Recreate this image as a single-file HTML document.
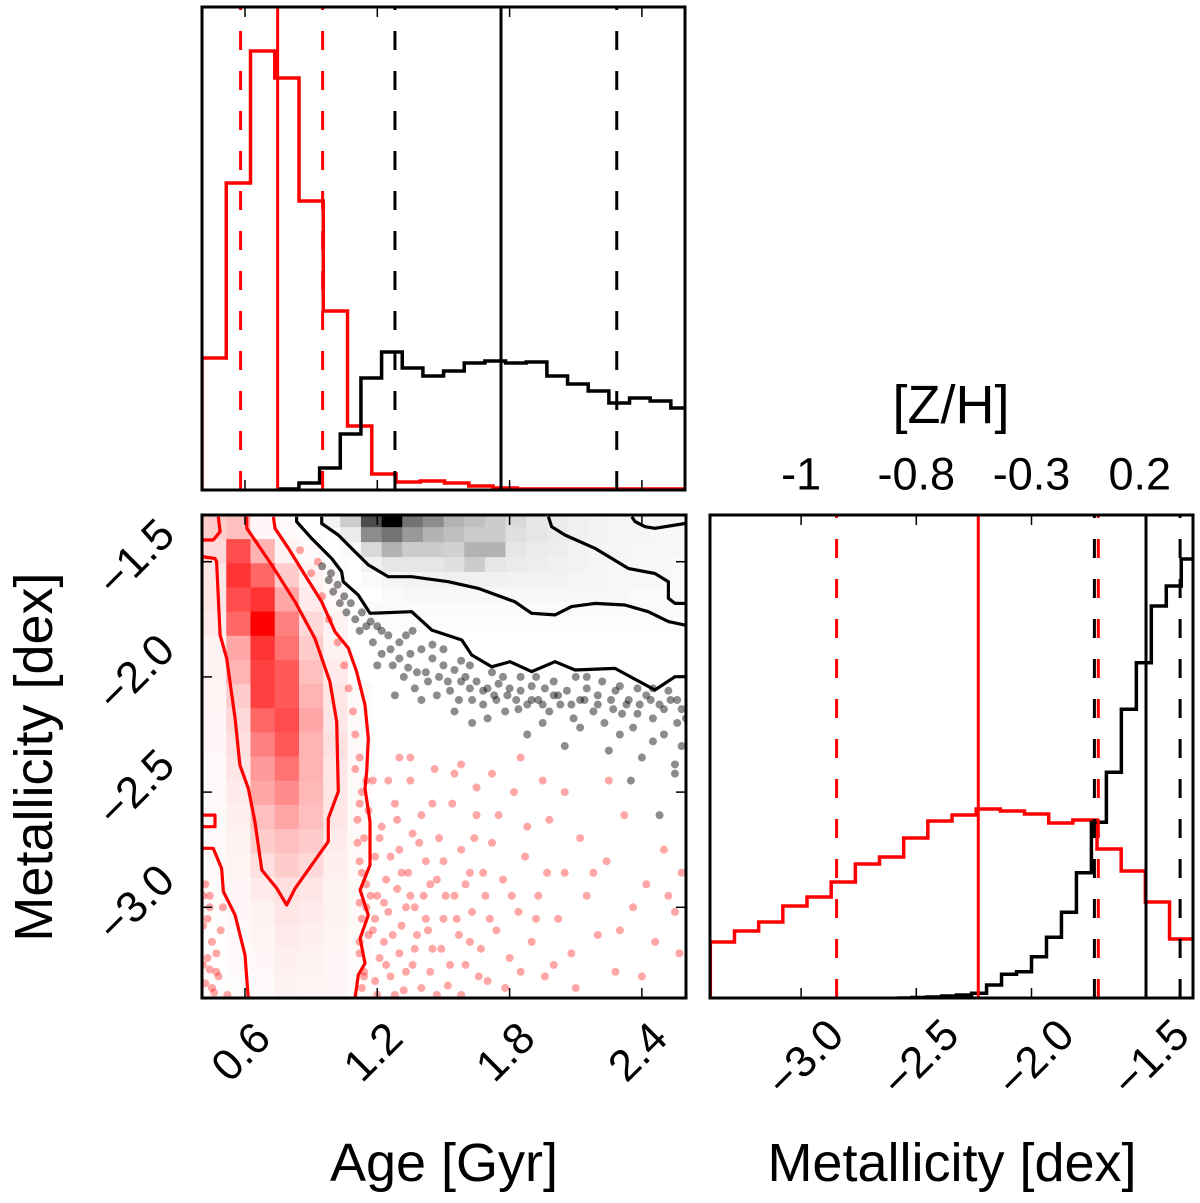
<!DOCTYPE html>
<html><head><meta charset="utf-8"><style>
html,body{margin:0;padding:0;background:#fff;}
svg{display:block;font-family:"Liberation Sans",Arial,sans-serif;}
</style></head><body>
<svg id="fig" width="1200" height="1203" viewBox="0 0 1200 1203" xmlns="http://www.w3.org/2000/svg">
<defs>
<clipPath id="clipTop"><rect x="202" y="7" width="483" height="483"/></clipPath>
<clipPath id="clipMain"><rect x="202" y="515" width="484" height="483"/></clipPath>
<clipPath id="clipRight"><rect x="710" y="515" width="483" height="483"/></clipPath>
</defs>
<g id="gTop"></g>
<g id="gMain"></g>
<g id="gRight"></g>
<g id="gText"></g>
</svg>
<script>
// ---------- data ----------
const ageTicks = [0.6, 1.2, 1.8, 2.4];
const ageTickLabels = ["0.6", "1.2", "1.8", "2.4"];
const metTicks = [-1.5, -2.0, -2.5, -3.0];
const metTickLabels = ["\u22121.5", "\u22122.0", "\u22122.5", "\u22123.0"];
const zhTickLabels = ["-1", "-0.8", "-0.3", "0.2"];
const zhTickPos = [-3.0, -2.5, -2.0, -1.53];

const redAgeStart = 0.405, redAgeWidth = 0.11;
const redAgeHist = [132, 307, 439, 412, 289, 179, 64, 16, 8, 9, 7, 4, 2, 1, 1, 1, 1, 1, 1, 1];
const blackAgeStart = 0.751, blackAgeWidth = 0.0937;
const blackAgeHist = [1, 7, 22, 56, 112, 138, 122, 114, 119, 127, 129, 127, 128, 114, 106, 99, 87, 92, 89, 82];
const redAgeLines = [0.58, 0.748, 0.952];
const blackAgeLines = [1.28, 1.761, 2.286];

const redMetStart = -3.394, redMetWidth = 0.1049;
const redMetHist = [56, 67, 76, 92, 101, 116, 134, 141, 160, 177, 183, 189, 187, 184, 175, 178, 149, 127, 96, 59];
const blackMetStart = -2.585, blackMetWidth = 0.065;
const blackMetHist = [0, 0.5, 1, 2, 3, 4.7, 13, 23.7, 26.3, 41.3, 60.7, 85.7, 125.3, 175.7, 225.7, 288.7, 335.3, 392, 412, 439];
const redMetLines = [-2.846, -2.231, -1.71];
const blackMetLines = [-1.727, -1.503, -1.355];

const redDensTop = -1.297, redDensH = 0.1049;
const redDensity = [
[0.2,0.25,0.03,0.02,0,0,0],
[0.15,0.7,0.3,0.05,0.02,0,0],
[0.1,0.8,0.6,0.2,0.05,0.02,0],
[0.1,0.7,0.8,0.35,0.08,0.02,0],
[0.08,0.6,1.0,0.5,0.15,0.05,0],
[0.05,0.35,0.8,0.55,0.2,0.05,0],
[0.05,0.3,0.75,0.65,0.25,0.08,0],
[0.04,0.2,0.75,0.65,0.3,0.1,0.02],
[0.03,0.15,0.6,0.7,0.35,0.1,0.02],
[0.03,0.12,0.5,0.65,0.3,0.12,0.02],
[0.02,0.1,0.4,0.55,0.3,0.1,0.02],
[0.02,0.08,0.35,0.45,0.28,0.1,0.02],
[0.02,0.06,0.25,0.35,0.25,0.1,0.02],
[0.02,0.05,0.2,0.25,0.2,0.08,0.02],
[0.02,0.04,0.12,0.2,0.15,0.06,0.02],
[0.01,0.03,0.08,0.12,0.1,0.05,0.02],
[0.01,0.03,0.05,0.1,0.08,0.05,0.02],
[0,0.02,0.04,0.08,0.06,0.04,0.02],
[0,0.02,0.03,0.06,0.05,0.03,0.01],
[0,0.01,0.02,0.05,0.04,0.03,0.01]
];
const blackDensTop = -1.285, blackDensH = 0.065;
const blackDensity = [
[0,0,0.05,0.2,0.7,1.0,0.55,0.45,0.3,0.25,0.2,0.15,0.1,0.08,0.06,0.05,0.04,0.04,0.03,0.03],
[0,0,0,0.08,0.45,0.55,0.4,0.3,0.25,0.2,0.2,0.12,0.1,0.08,0.06,0.05,0.04,0.04,0.03,0.03],
[0,0,0,0.02,0.15,0.3,0.2,0.2,0.18,0.3,0.3,0.1,0.08,0.07,0.05,0.04,0.04,0.03,0.03,0.03],
[0,0,0,0,0.05,0.1,0.1,0.1,0.12,0.2,0.1,0.08,0.07,0.06,0.05,0.04,0.03,0.03,0.03,0.02],
[0,0,0,0,0.02,0.04,0.05,0.05,0.06,0.06,0.06,0.05,0.05,0.05,0.04,0.04,0.03,0.03,0.03,0.02],
[0,0,0,0,0,0.02,0.03,0.03,0.03,0.03,0.03,0.03,0.03,0.03,0.03,0.03,0.03,0.02,0.02,0.02],
[0,0,0,0,0.02,0.02,0.02,0.02,0.02,0.02,0.02,0.02,0.02,0.02,0.02,0.02,0.02,0.02,0.02,0.02],
[0,0,0,0,0.01,0.01,0.01,0.01,0.01,0.01,0.01,0.01,0.01,0.01,0.01,0.01,0.01,0.01,0.01,0.01]
];

const redPointAge = [1.12,1.13,1.11,1.14,1.12,1.15,1.12,1.13,1.16,1.12,1.14,1.13,1.18,1.19,1.2,1.18,1.21,1.19,1.22,1.24,1.25,1.23,1.26,1.28,1.3,1.29,1.31,1.3,1.32,1.35,1.36,1.34,1.37,1.38,1.36,1.4,1.42,1.41,1.43,1.44,1.46,1.48,1.47,1.5,1.49,1.52,1.54,1.55,1.57,1.58,1.6,1.62,1.63,1.65,1.67,1.69,1.7,1.72,1.74,1.77,1.8,1.82,1.84,1.87,1.9,1.93,1.96,1.98,2.02,2.05,2.08,2.12,2.15,2.2,2.24,2.28,2.32,2.36,2.42,2.46,2.5,2.55,2.58,1.58,1.72,1.3,1.95,0.42,0.44,0.41,0.45,0.43,0.47,0.42,0.46,0.49,0.48,0.44,0.41,0.85,0.9,0.95,0.98,1.02,1.05,1.07,1.09,1.1,0.93,
1.11,1.13,1.15,1.12,1.14,1.16,1.17,1.19,1.2,1.21,1.23,1.24,1.26,1.27,1.28,1.29,1.31,1.33,1.33,1.35,1.37,1.39,1.4,1.42,1.44,1.45,1.47,1.5,1.51,1.53,1.56,1.58,1.6,1.62,1.64,1.66,1.68,1.71,1.75,1.78,1.81,1.85,1.88,1.92,1.97,2.0,2.1,2.18,2.3,2.4,2.52,2.57,1.25,1.35,1.45,1.55,1.65,1.85,2.05,2.25,1.1,1.12,1.15,0.43,0.45,0.47,0.5,0.52,0.41,0.44];
const redPointMet = [-2.35,-2.5,-2.62,-2.7,-2.8,-2.9,-2.98,-3.05,-3.12,-3.2,-3.28,-3.35,-2.45,-2.78,-2.95,-3.1,-3.22,-3.32,-2.65,-2.88,-3.02,-3.15,-3.3,-2.55,-2.75,-2.92,-3.08,-3.2,-3.36,-2.45,-2.68,-2.85,-3.0,-3.12,-3.25,-2.6,-2.8,-2.95,-3.1,-3.28,-2.4,-2.7,-2.88,-3.05,-3.18,-3.34,-2.55,-2.95,-3.12,-2.75,-3.25,-2.85,-3.02,-2.6,-3.18,-2.95,-3.32,-2.72,-3.1,-2.88,-3.22,-2.5,-3.02,-2.78,-3.15,-2.95,-3.3,-2.62,-3.05,-2.85,-3.2,-2.7,-2.95,-3.12,-2.8,-3.28,-2.6,-3.0,-2.9,-3.15,-2.75,-3.02,-2.85,-2.38,-2.42,-2.35,-2.45,-2.9,-3.0,-3.08,-3.15,-3.22,-3.28,-3.33,-3.37,-3.1,-3.3,-2.95,-3.25,-1.45,-1.55,-1.65,-1.75,-1.85,-1.95,-2.05,-2.15,-2.25,-1.5,
-2.72,-2.85,-3.0,-3.15,-3.3,-2.58,-2.95,-3.05,-3.38,-2.7,-2.98,-3.25,-2.78,-3.12,-3.38,-2.62,-2.85,-3.0,-3.28,-2.95,-3.18,-2.72,-3.35,-3.05,-2.9,-3.18,-3.38,-2.8,-2.95,-3.25,-3.05,-3.38,-2.9,-3.15,-2.7,-3.3,-2.85,-3.05,-2.6,-3.35,-2.95,-3.28,-2.65,-3.05,-2.85,-3.25,-3.35,-2.85,-3.1,-3.3,-2.95,-3.2,-2.45,-2.35,-2.55,-2.42,-2.48,-2.35,-2.5,-2.45,-2.4,-2.55,-2.45,-3.05,-3.35,-3.2,-3.0,-3.38,-2.95,-3.27];
const blackPointAge = [0.95,0.98,1.0,1.03,1.06,1.1,1.12,1.15,1.18,1.2,1.22,1.25,1.27,1.3,1.32,1.35,1.37,1.4,1.42,1.45,1.47,1.5,1.52,1.55,1.57,1.6,1.62,1.65,1.68,1.7,1.73,1.75,1.78,1.8,1.83,1.85,1.88,1.9,1.93,1.96,1.98,2.0,2.03,2.06,2.09,2.12,2.15,2.18,2.2,2.23,2.26,2.28,2.31,2.34,2.36,2.39,2.42,2.45,2.48,2.5,2.53,2.56,2.58,1.33,1.45,1.58,1.72,1.85,2.0,2.15,2.3,2.45,1.63,1.88,2.05,2.25,2.4,2.55,1.2,1.28,2.35,2.55,2.48,
1.08,1.13,1.17,1.22,1.26,1.3,1.34,1.38,1.43,1.48,1.53,1.58,1.63,1.68,1.74,1.79,1.84,1.9,1.95,2.02,2.08,2.14,2.2,2.27,2.33,2.38,2.44,2.5,2.56,2.6,1.36,1.5,1.62,1.77,1.92,2.1,2.22,2.38,2.52,1.4,1.55,1.7,1.95,2.12,2.3,2.45,2.58,1.02,0.99,1.05];
const blackPointMet = [-1.52,-1.58,-1.63,-1.68,-1.72,-1.75,-1.8,-1.78,-1.85,-1.78,-1.9,-1.82,-1.95,-1.85,-2.0,-1.9,-2.05,-1.88,-1.98,-1.92,-2.08,-1.95,-2.02,-1.97,-2.1,-2.0,-2.05,-2.02,-2.12,-2.05,-2.08,-2.03,-2.15,-2.05,-2.1,-2.06,-2.12,-2.04,-2.1,-2.05,-2.15,-2.08,-2.12,-2.06,-2.18,-2.1,-2.05,-2.15,-2.08,-2.2,-2.1,-2.06,-2.16,-2.1,-2.22,-2.12,-2.08,-2.18,-2.12,-2.25,-2.1,-2.2,-2.14,-1.82,-1.86,-1.93,-1.98,-2.0,-2.02,-2.0,-2.04,-2.05,-2.2,-2.25,-2.3,-2.32,-2.35,-2.38,-1.95,-2.08,-2.45,-2.42,-2.6,
-1.68,-1.72,-1.76,-1.8,-1.88,-1.92,-1.96,-1.98,-2.02,-2.0,-2.06,-2.02,-2.1,-2.06,-2.1,-2.08,-2.14,-2.1,-2.12,-2.08,-2.12,-2.1,-2.12,-2.14,-2.12,-2.16,-2.1,-2.14,-2.1,-2.18,-1.8,-1.88,-1.95,-2.0,-2.0,-2.0,-2.02,-2.05,-2.06,-2.1,-2.15,-2.18,-2.2,-2.22,-2.25,-2.28,-2.3,-1.6,-1.55,-1.65];

const redContourA = [[0.608,-1.305],[0.608,-1.355],[0.721,-1.514],[0.827,-1.674],[0.917,-1.833],[0.985,-2.021],[1.016,-2.194],[1.023,-2.498],[0.978,-2.614],[0.978,-2.715],[0.902,-2.817],[0.827,-2.918],[0.789,-2.99],[0.744,-2.918],[0.676,-2.838],[0.645,-2.628],[0.615,-2.484],[0.577,-2.383],[0.555,-2.18],[0.517,-1.92],[0.487,-1.818],[0.471,-1.5],[0.464,-1.486],[0.406,-1.478]];
const redContourB = [[0.479,-1.305],[0.487,-1.37],[0.456,-1.406],[0.406,-1.406]];
const redContourC = [[0.729,-1.305],[0.736,-1.355],[0.797,-1.442],[0.872,-1.558],[0.948,-1.674],[1.008,-1.804],[1.069,-1.876],[1.106,-1.977],[1.144,-2.122],[1.159,-2.267],[1.152,-2.411],[1.144,-2.484],[1.167,-2.628],[1.167,-2.817],[1.122,-2.925],[1.159,-3.034],[1.122,-3.135],[1.144,-3.243],[1.114,-3.294],[1.099,-3.395]];
const redContourD = [[0.406,-2.744],[0.456,-2.744],[0.494,-2.831],[0.502,-2.932],[0.555,-3.034],[0.6,-3.207],[0.615,-3.395]];
const redContourE = [[0.406,-2.6],[0.464,-2.6],[0.464,-2.65],[0.406,-2.65]];
const blackContourJ = [[0.948,-1.305],[0.948,-1.334],[1.023,-1.384],[1.099,-1.457],[1.159,-1.514],[1.25,-1.565],[1.356,-1.565],[1.522,-1.587],[1.658,-1.616],[1.824,-1.674],[1.9,-1.724],[2.006,-1.731],[2.081,-1.695],[2.187,-1.681],[2.323,-1.688],[2.429,-1.717],[2.52,-1.76],[2.595,-1.775]];
const blackContourK = [[0.834,-1.305],[0.834,-1.326],[0.902,-1.399],[0.993,-1.486],[1.038,-1.543],[1.046,-1.587],[1.114,-1.645],[1.167,-1.724],[1.356,-1.717],[1.447,-1.797],[1.583,-1.84],[1.628,-1.905],[1.719,-1.956],[1.802,-1.934],[1.9,-1.977],[2.006,-1.934],[2.097,-1.97],[2.278,-1.963],[2.459,-2.057],[2.55,-1.999],[2.595,-1.999]];
const blackContourL = [[1.976,-1.305],[1.991,-1.348],[2.051,-1.384],[2.187,-1.442],[2.338,-1.529],[2.459,-1.551],[2.52,-1.587],[2.52,-1.659],[2.55,-1.681],[2.595,-1.681]];
const blackContourM = [[2.354,-1.305],[2.369,-1.326],[2.414,-1.348],[2.459,-1.355],[2.595,-1.334]];

// ---------- scales ----------
const NS = "http://www.w3.org/2000/svg";
const ax = v => 245 + (v - 0.6) * 220.5;
const my = v => 561.7 + (-1.5 - v) * 230.4;
const mx = v => 1146.7 + (v + 1.5) * 230.4;
const hTop = c => 490 - c;
const hRight = c => 998 - c;

function mk(tag, attrs, parent) {
  const e = document.createElementNS(NS, tag);
  for (const k in attrs) e.setAttribute(k, attrs[k]);
  parent.appendChild(e);
  return e;
}
const gTop = document.getElementById('gTop');
const gMain = document.getElementById('gMain');
const gRight = document.getElementById('gRight');
const gText = document.getElementById('gText');

function stepPath(start, width, vals, xs, ys, base) {
  let d = "M" + xs(start) + "," + ys(base);
  vals.forEach((v, i) => {
    const x0 = xs(start + i * width), x1 = xs(start + (i + 1) * width);
    d += " L" + x0 + "," + ys(v) + " L" + x1 + "," + ys(v);
  });
  d += " L" + xs(start + vals.length * width) + "," + ys(base);
  return d;
}

// ---------- top panel ----------
const topClip = mk('g', {'clip-path': 'url(#clipTop)'}, gTop);
let p = mk('path', {d: stepPath(redAgeStart, redAgeWidth, redAgeHist, ax, hTop, 0), fill: 'none', stroke: '#ff0000', 'stroke-width': 3.5}, topClip);


p = mk('path', {d: stepPath(blackAgeStart, blackAgeWidth, blackAgeHist, ax, hTop, 0), fill: 'none', stroke: '#000', 'stroke-width': 3.5}, topClip);


redAgeLines.forEach((v, i) => {
  const l = mk('line', {x1: ax(v), x2: ax(v), y1: 490, y2: 7, stroke: '#ff0000', 'stroke-width': 3, 'stroke-dasharray': i === 1 ? 'none' : '19 21'}, topClip);
  
  
});
blackAgeLines.forEach((v, i) => {
  const l = mk('line', {x1: ax(v), x2: ax(v), y1: 490, y2: 7, stroke: '#000', 'stroke-width': 3, 'stroke-dasharray': i === 1 ? 'none' : '19 21'}, topClip);
  
  
});
ageTicks.forEach(v => {
  mk('line', {x1: ax(v), x2: ax(v), y1: 7, y2: 17, stroke: '#000', 'stroke-width': 1.5}, gTop);
  mk('line', {x1: ax(v), x2: ax(v), y1: 490, y2: 480, stroke: '#000', 'stroke-width': 1.5}, gTop);
});
let fr = mk('rect', {x: 202, y: 7, width: 483, height: 483, fill: 'none', stroke: '#000', 'stroke-width': 3}, gTop);



// ---------- main panel ----------
const mainClip = mk('g', {'clip-path': 'url(#clipMain)'}, gMain);
redDensity.forEach((row, r) => {
  row.forEach((v, c) => {
    if (v <= 0) return;
    const x0 = ax(redAgeStart + c * redAgeWidth), x1 = ax(redAgeStart + (c + 1) * redAgeWidth);
    const y0 = my(redDensTop - r * redDensH), y1 = my(redDensTop - (r + 1) * redDensH);
    const g = Math.round(255 * (1 - v));
    const cell = mk('rect', {x: x0, y: y0, width: x1 - x0 + 0.5, height: y1 - y0 + 0.5, fill: 'rgb(255,' + g + ',' + g + ')'}, mainClip);
    
    
  });
});
blackDensity.forEach((row, r) => {
  row.forEach((v, c) => {
    if (v <= 0) return;
    const x0 = ax(blackAgeStart + c * blackAgeWidth), x1 = ax(blackAgeStart + (c + 1) * blackAgeWidth);
    const y0 = my(blackDensTop - r * blackDensH), y1 = my(blackDensTop - (r + 1) * blackDensH);
    const g = Math.round(255 * (1 - v));
    const cell = mk('rect', {x: x0, y: y0, width: x1 - x0 + 0.5, height: y1 - y0 + 0.5, fill: 'rgb(' + g + ',' + g + ',' + g + ')'}, mainClip);
    
    
  });
});
redPointAge.forEach((a, i) => {
  const c = mk('circle', {cx: ax(a), cy: my(redPointMet[i]), r: 4, fill: '#ff0000', 'fill-opacity': 0.35}, mainClip);
  
  
});
blackPointAge.forEach((a, i) => {
  const c = mk('circle', {cx: ax(a), cy: my(blackPointMet[i]), r: 4, fill: '#000', 'fill-opacity': 0.45}, mainClip);
  
  
});
function contour(pts, color, name) {
  const d = pts.map((q, i) => (i ? 'L' : 'M') + ax(q[0]).toFixed(1) + ',' + my(q[1]).toFixed(1)).join(' ');
  const e = mk('path', {d: d, fill: 'none', stroke: color, 'stroke-width': 3.2, 'stroke-linejoin': 'round'}, mainClip);
  
  
}
contour(redContourA, '#ff0000', 'red-inner-contour');
contour(redContourB, '#ff0000', 'red-edge-contour');
contour(redContourC, '#ff0000', 'red-outer-contour');
contour(redContourD, '#ff0000', 'red-lower-contour');
contour(redContourE, '#ff0000', 'red-small-contour');
contour(blackContourJ, '#000', 'black-inner-contour');
contour(blackContourK, '#000', 'black-outer-contour');
contour(blackContourL, '#000', 'black-upper-contour');
contour(blackContourM, '#000', 'black-corner-contour');
ageTicks.forEach(v => {
  mk('line', {x1: ax(v), x2: ax(v), y1: 515, y2: 525, stroke: '#000', 'stroke-width': 1.5}, gMain);
  mk('line', {x1: ax(v), x2: ax(v), y1: 998, y2: 988, stroke: '#000', 'stroke-width': 1.5}, gMain);
});
metTicks.forEach(v => {
  mk('line', {x1: 202, x2: 212, y1: my(v), y2: my(v), stroke: '#000', 'stroke-width': 1.5}, gMain);
  mk('line', {x1: 686, x2: 676, y1: my(v), y2: my(v), stroke: '#000', 'stroke-width': 1.5}, gMain);
});
fr = mk('rect', {x: 202, y: 515, width: 484, height: 483, fill: 'none', stroke: '#000', 'stroke-width': 3}, gMain);



// ---------- right panel ----------
const rightClip = mk('g', {'clip-path': 'url(#clipRight)'}, gRight);
p = mk('path', {d: stepPath(redMetStart, redMetWidth, redMetHist, mx, hRight, 0), fill: 'none', stroke: '#ff0000', 'stroke-width': 3.5}, rightClip);


p = mk('path', {d: stepPath(blackMetStart, blackMetWidth, blackMetHist, mx, hRight, 0), fill: 'none', stroke: '#000', 'stroke-width': 3.5}, rightClip);


redMetLines.forEach((v, i) => {
  const l = mk('line', {x1: mx(v), x2: mx(v), y1: 998, y2: 515, stroke: '#ff0000', 'stroke-width': 3, 'stroke-dasharray': i === 1 ? 'none' : '19 21'}, rightClip);
  
  
});
blackMetLines.forEach((v, i) => {
  const l = mk('line', {x1: mx(v), x2: mx(v), y1: 998, y2: 515, stroke: '#000', 'stroke-width': 3, 'stroke-dasharray': i === 1 ? 'none' : '19 21'}, rightClip);
  
  
});
metTicks.forEach(v => {
  mk('line', {x1: mx(v), x2: mx(v), y1: 515, y2: 525, stroke: '#000', 'stroke-width': 1.5}, gRight);
  mk('line', {x1: mx(v), x2: mx(v), y1: 998, y2: 988, stroke: '#000', 'stroke-width': 1.5}, gRight);
});
fr = mk('rect', {x: 710, y: 515, width: 483, height: 483, fill: 'none', stroke: '#000', 'stroke-width': 3}, gRight);



// ---------- text ----------
function txt(s, x, y, size, rot, anchor, name) {
  const t = mk('text', {x: x, y: y, 'font-size': size, 'text-anchor': anchor || 'middle', fill: '#000'}, gText);
  if (rot) t.setAttribute('transform', 'rotate(' + rot + ' ' + x + ' ' + y + ')');
  t.setAttribute('dominant-baseline', 'central');
  t.textContent = s;
  
  
  return t;
}
ageTicks.forEach((v, i) => txt(ageTickLabels[i], ax(v) - 4, 1052, 44, -45, 'middle', 'age-tick-label'));
metTicks.forEach((v, i) => txt(metTickLabels[i], 136, my(v) - 4, 44, -45, 'middle', 'metallicity-y-tick-label'));
metTicks.forEach((v, i) => txt(metTickLabels[i], mx(v) + 4, 1058, 44, -45, 'middle', 'metallicity-x-tick-label'));
zhTickPos.forEach((v, i) => txt(zhTickLabels[i], mx(v), 474, 45, 0, 'middle', 'zh-tick-label'));
txt('[Z/H]', 951, 405, 54, 0, 'middle', 'zh-axis-title');
txt('Age [Gyr]', 444, 1163, 54, 0, 'middle', 'x-axis-title-age');
txt('Metallicity [dex]', 952, 1163, 54, 0, 'middle', 'x-axis-title-metallicity');
txt('Metallicity [dex]', 34, 757, 54, -90, 'middle', 'y-axis-title-metallicity');
</script>
</body></html>
